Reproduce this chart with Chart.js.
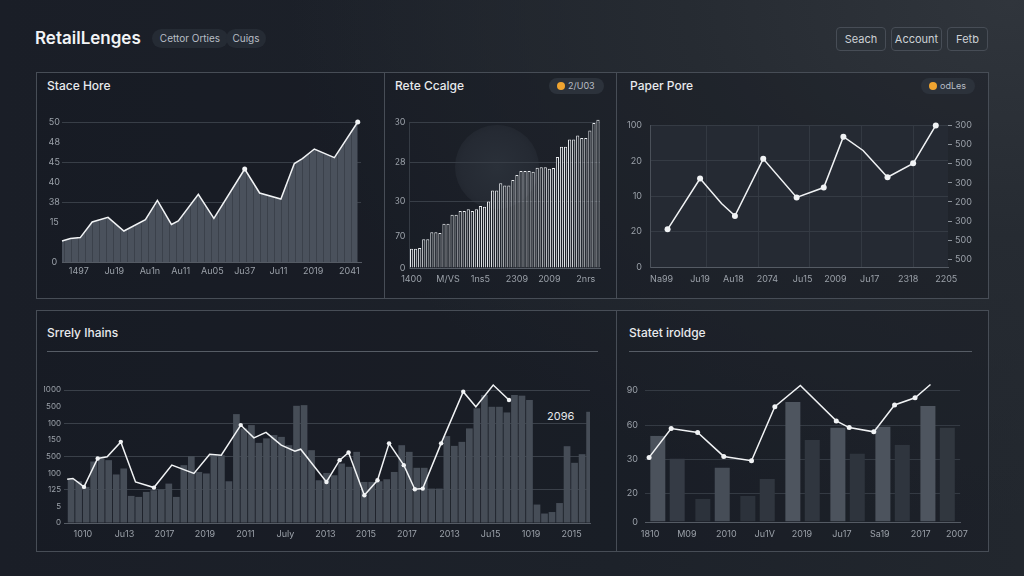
<!DOCTYPE html>
<html>
<head>
<meta charset="utf-8">
<script src="https://cdn.jsdelivr.net/npm/chart.js@4.4.1/dist/chart.umd.min.js"></script>
<style>
body{margin:0;width:1024px;height:576px;overflow:hidden;font-family:Inter,"Noto Sans",sans-serif;
	background:radial-gradient(ellipse 720px 520px at 1010px 0px,#30353c 0%,#262b32 45%,rgba(28,32,40,0) 100%),linear-gradient(90deg,#1a1e27 0%,#1d222a 60%,#22272e 100%);}
.panel{position:absolute;border:1px solid #474d56;background:rgba(20,24,31,.35);box-sizing:border-box}
.title{position:absolute;color:#e8eaed;font-size:12px;font-weight:500;line-height:14px}
.rule{position:absolute;height:1px;background:#565c65}
.pill{position:absolute;height:16px;border-radius:8px;background:#2c323b;color:#b9bec6;font-size:9px;line-height:16px;box-sizing:border-box;padding-left:19px}
.pill i{position:absolute;left:8px;top:4px;width:8px;height:8px;border-radius:4px;background:#f0a430}
.tag{position:absolute;top:29px;height:19px;border-radius:10px;background:#252b34;color:#b8bec6;font-size:10px;line-height:19px;text-align:center}
.btn{position:absolute;top:27px;height:24px;border:1px solid #474d56;border-radius:4px;background:#2b3138;color:#cdd1d6;font-size:11px;line-height:22px;text-align:center;box-sizing:border-box}
canvas{position:absolute}
</style>
</head>
<body>

<div style="position:absolute;left:35px;top:28px;color:#f2f4f6;font-size:17px;font-weight:600">RetailLenges</div>
<div class="tag" style="left:152px;width:76px">Cettor Orties</div>
<div class="tag" style="left:226px;width:40px">Cuigs</div>
<div class="btn" style="left:836px;width:50px">Seach</div>
<div class="btn" style="left:891px;width:51px">Account</div>
<div class="btn" style="left:947px;width:41px">Fetb</div>

<div class="panel" style="left:36px;top:72px;width:349px;height:227px"></div>
<div class="panel" style="left:384px;top:72px;width:233px;height:227px"></div>
<div class="panel" style="left:616px;top:72px;width:373px;height:227px"></div>
<div class="panel" style="left:36px;top:310px;width:581px;height:242px"></div>
<div class="panel" style="left:616px;top:310px;width:373px;height:242px"></div>

<div style="position:absolute;left:455px;top:125px;width:84px;height:84px;border-radius:42px;background:radial-gradient(circle,#2a3039 0%,#252a33 60%,rgba(37,42,51,0) 100%)"></div>

<div class="title" style="left:47px;top:79px">Stace Hore</div>
<div class="title" style="left:395px;top:79px">Rete Ccalge</div>
<div class="pill" style="left:549px;top:78px;width:55px"><i></i>2/U03</div>
<div class="title" style="left:630px;top:79px">Paper Pore</div>
<div class="pill" style="left:921px;top:78px;width:54px"><i></i>odLes</div>
<div class="title" style="left:47px;top:326px">Srrely Ihains</div>
<div class="rule" style="left:47px;top:351px;width:551px"></div>
<div class="title" style="left:629px;top:326px">Statet iroldge</div>
<div class="rule" style="left:629px;top:351px;width:343px"></div>
<div style="position:absolute;left:547px;top:409px;color:#e6e8eb;font-size:11px">2096</div>

<canvas id="c1" width="326" height="172" style="left:44px;top:112px"></canvas>
<canvas id="c2" width="213" height="175" style="left:395px;top:112px"></canvas>
<canvas id="c3" width="350" height="175" style="left:627px;top:112px"></canvas>
<canvas id="c4" width="556" height="162" style="left:44px;top:378px"></canvas>
<canvas id="c5" width="350" height="162" style="left:625px;top:378px"></canvas>

<script>
// ---- data ----
const storeX = [0, 2.8, 6.1, 10.1, 15.4, 20.7, 27.9, 31.9, 36.6, 38.9, 45.6, 50.8, 61.1, 66.1, 73.2, 77.7, 80.4, 84.4, 91.1, 98.9];
const storeY = [1.05, 1.17, 1.22, 2.0, 2.23, 1.55, 2.12, 3.08, 1.88, 2.05, 3.38, 2.18, 4.65, 3.45, 3.15, 4.92, 5.17, 5.65, 5.22, 7.0];
const storeTicks = ['1497', 'Ju19', 'Au1n', 'Au11', 'Au05', 'Ju37', 'Ju11', '2019', '2041'];
const storeTickPos = [5.6, 17.5, 29.4, 39.7, 50.3, 61.1, 72.4, 84, 96.1];
const storeYTicks = ['0', '', '15', '38', '40', '45', '48', '50'];

const rateValues = [5.3, 5.3, 5.5, 7.9, 7.9, 9.8, 9.8, 9.6, 12.1, 12.1, 14.6, 14.6, 15.6, 15.6, 16.1, 15.6,
	16.1, 17.0, 16.8, 18.2, 21.2, 21.2, 23.2, 22.6, 22.6, 24.1, 25.5, 26.6, 26.6, 26.6, 26.4, 27.5,
	27.6, 27.6, 27.2, 27.4, 30.4, 33.2, 33.2, 35.2, 35.2, 36.3, 35.6, 35.6, 37.7, 39.7, 40.6];
const rateTicks = ['1400', 'M/VS', '1ns5', '2309', '2009', '2nrs'];
const rateTickIdx = [0, 9, 17, 26, 34, 43];
const rateYPos = [0, 8.6, 18.2, 28.9, 40];
const rateYTicks = ['0', '70', '30', '28', '30'];

const paperX = [5.9, 16.8, 24, 28.5, 38, 49.2, 58.3, 64.9, 71.5, 79.7, 88.3, 95.9];
const paperY = [26.6, 62.5, 44.8, 36.1, 76.4, 49.1, 56.1, 92, 82.3, 63.4, 73.2, 100];
const paperTicks = ['Na99', 'Ju19', 'Au18', '2074', 'Ju15', '2009', 'Ju17', '2318', '2205'];
const paperTickPos = [3.9, 16.8, 28, 39.4, 51.2, 62.2, 73.7, 86.6, 99.4];
const paperLeftTicks = ['0', '20', '10', '20', '100'];
const paperRightTicks = ['500', '500', '300', '200', '300', '500', '500', '300'];

const supplyBars = [2.63, 2.51, 2.17, 3.7, 3.88, 3.78, 2.92, 3.28, 1.63, 1.57, 1.87, 1.97, 2.03, 2.37, 1.57, 3.48,
	4.02, 3.07, 2.98, 4.08, 4.08, 2.51, 6.55, 5.69, 5.89, 4.82, 5.09, 5.29, 5.18, 4.68, 7.05, 7.09,
	4.38, 2.57, 3.01, 2.87, 3.58, 3.38, 4.28, 2.47, 2.47, 2.51, 2.63, 3.07, 4.68, 4.28, 3.32, 3.32,
	2.07, 2.07, 5.23, 4.64, 4.88, 5.69, 6.9, 7.7, 6.99, 6.99, 6.65, 7.7, 7.66, 7.4, 1.11, 0.57,
	0.66, 1.2, 4.62, 3.62, 4.14, 6.69];
const supplyLineX = [0.6, 1.7, 3.8, 6.4, 8.2, 10.8, 13.6, 17.1, 20.5, 24.7, 27.7, 29.9, 33.6, 36.1, 38.4, 41.3,
	43.9, 45.0, 49.9, 52.4, 54.1, 57.1, 59.6, 61.8, 64.6, 66.7, 68.2, 71.7, 75.9, 78.3, 81.6, 84.6];
const supplyLineY = [2.63, 2.68, 2.17, 3.88, 3.98, 4.88, 2.47, 2.13, 3.48, 2.98, 4.14, 4.08, 5.89, 5.12, 5.45, 4.68,
	4.32, 4.44, 2.47, 3.78, 4.24, 1.67, 2.57, 4.79, 3.48, 2.03, 2.07, 4.79, 7.9, 6.99, 8.3, 7.4];
const supplyTicks = ['1010', 'Ju13', '2017', '2019', '2011', 'July', '2013', '2015', '2017', '2013', 'Ju15', '1019', '2015'];
const supplyTickPos = [3.6, 11.5, 19.1, 26.8, 34.5, 42.1, 49.7, 57.4, 65.2, 73.3, 81.1, 88.8, 96.5];
const supplyYTicks = ['0', '5', '125', '100', '500', '150', '100', '500', '1000'];

const stateBarsA = [78.6, 21.2, 23.6, 109.4, 86.1, 87, 105.8];
const stateBarsB = [58, 49.8, 39.3, 74.7, 62.5, 70.4, 86.1];
const stateLineX = [1.3, 8.3, 16.7, 25, 33.8, 41.2, 49.3, 60.7, 64.8, 72.6, 79.2, 85.7, 90.6];
const stateLineY = [58.9, 85.2, 81.6, 59.8, 55.9, 105.1, 124.5, 92.2, 86.1, 82.2, 106.7, 113.3, 125.4];
const stateTicks = ['1810', 'M09', '2010', 'Ju1V', '2019', 'Ju17', 'Sa19', '2017', '2007'];
const stateTickPos = [1.6, 13.3, 25.8, 38, 49.8, 62.5, 74.5, 87.5, 99];
const stateYPos = [0, 26, 57, 88, 120];
const stateYTicks = ['0', '20', '30', '60', '90'];

// ---- look ----
const LINE = '#f1f3f5';
const GRID = '#383e47';
const AXIS = '#555b64';
const NONE = 'rgba(0,0,0,0)';

Chart.defaults.font.family = 'Inter, "Noto Sans", sans-serif';
Chart.defaults.font.size = 9;
Chart.defaults.color = '#9ba1a9';
Chart.defaults.animation = false;
Chart.defaults.responsive = false;
Chart.defaults.plugins.legend.display = false;
Chart.defaults.plugins.tooltip.enabled = false;

const plotBg = {
	id: 'plotBg',
	beforeDraw(chart, args, opts) {
		if (!opts.color) return;
		const a = chart.chartArea;
		const c = chart.ctx;
		c.save();
		c.fillStyle = opts.color;
		c.fillRect(a.left, a.top, a.right - a.left, a.bottom - a.top);
		c.restore();
	}
};
Chart.register(plotBg);

function at(values) {
	return scale => { scale.ticks = values.map(v => ({ value: v })); };
}

function pts(xs, ys) {
	return xs.map((x, i) => ({ x: x, y: ys[i] }));
}

function stripes() {
	const cv = document.createElement('canvas');
	cv.width = 7; cv.height = 4;
	const c = cv.getContext('2d');
	c.fillStyle = '#4a515c';
	c.fillRect(0, 0, 7, 4);
	c.fillStyle = '#3b414b';
	c.fillRect(6, 0, 1, 4);
	return document.getElementById('c1').getContext('2d').createPattern(cv, 'repeat');
}

function markers(n, idx, r) {
	const out = [];
	for (let i = 0; i < n; i++) out.push(idx.includes(i) ? r : 0);
	return out;
}

// linear bottom axis that only carries the text labels at given spots
function labelAxis(pos, labels, pad, height) {
	return {
		type: 'linear', position: 'bottom', min: 0, max: 100, offset: false,
		afterBuildTicks: at(pos),
		afterFit: s => { s.height = height; },
		ticks: { callback: (v, i) => labels[i], autoSkip: false, maxRotation: 0, padding: pad },
		grid: { display: false, drawTicks: false },
		border: { color: AXIS }
	};
}

// Stace Hore
new Chart(document.getElementById('c1'), {
	type: 'line',
	data: {
		datasets: [{
			data: pts(storeX, storeY),
			borderColor: LINE, borderWidth: 1.5, tension: 0,
			fill: 'origin', backgroundColor: stripes(),
			pointRadius: markers(storeY.length, [12, 19], 2.5),
			pointBackgroundColor: LINE, pointBorderWidth: 0, clip: false
		}]
	},
	options: {
		layout: { padding: { top: 10, right: 9 } },
		scales: {
			x: labelAxis(storeTickPos, storeTicks, 4, 22),
			y: {
				min: 0, max: 7,
				afterBuildTicks: at([0, 1, 2, 3, 4, 5, 6, 7]),
				afterFit: s => { s.width = 18; },
				ticks: { callback: (v, i) => storeYTicks[i], crossAlign: 'center', padding: 2 },
				grid: { color: ctx => [3, 5, 7].includes(ctx.index) ? GRID : NONE, drawTicks: false },
				border: { display: false }
			}
		}
	}
});

// Rete Ccalge
new Chart(document.getElementById('c2'), {
	type: 'bar',
	data: {
		labels: rateValues.map((v, i) => String(i)),
		datasets: [{
			data: rateValues,
			backgroundColor: '#1d222a', borderColor: '#e9ecef', borderWidth: 1,
			barPercentage: 0.78, categoryPercentage: 1, clip: false
		}]
	},
	options: {
		layout: { padding: { top: 10, right: 8 } },
		scales: {
			x: {
				afterBuildTicks: at(rateTickIdx),
				afterFit: s => { s.height = 19; },
				ticks: { callback: (v, i) => rateTicks[i], autoSkip: false, maxRotation: 0, padding: 6 },
				grid: { display: false, drawTicks: false },
				border: { color: AXIS }
			},
			y: {
				min: 0, max: 40,
				afterBuildTicks: at(rateYPos),
				afterFit: s => { s.width = 14; },
				ticks: { callback: (v, i) => rateYTicks[i], padding: 4 },
				grid: { color: ctx => ctx.index >= 2 ? GRID : NONE, drawTicks: false },
				border: { color: '#353b44' }
			}
		}
	}
});

// Paper Pore
new Chart(document.getElementById('c3'), {
	type: 'line',
	data: {
		datasets: [{
			data: pts(paperX, paperY),
			borderColor: LINE, borderWidth: 1.5, tension: 0,
			pointRadius: markers(paperY.length, [0, 1, 3, 4, 5, 6, 7, 9, 10, 11], 3),
			pointBackgroundColor: LINE, pointBorderWidth: 0, clip: false
		}]
	},
	options: {
		layout: { padding: { top: 9 } },
		plugins: { plotBg: { color: '#252a33' } },
		scales: {
			x: labelAxis(paperTickPos, paperTicks, 7, 20),
			xg: {
				type: 'linear', position: 'bottom', min: 0, max: 100, offset: false,
				afterBuildTicks: at([19, 36.3, 53.6, 70.9, 88.3]),
				afterFit: s => { s.height = 0; },
				ticks: { display: false },
				grid: { color: '#333942', drawTicks: false },
				border: { display: false }
			},
			y: {
				min: 0, max: 100,
				afterBuildTicks: at([0, 25, 50, 75, 100]),
				afterFit: s => { s.width = 23; },
				ticks: { callback: (v, i) => paperLeftTicks[i], padding: 8 },
				grid: { color: '#353b44', drawTicks: false },
				border: { color: '#4a5059' }
			},
			y2: {
				position: 'right', min: -0.4, max: 7,
				afterBuildTicks: at([0, 1, 2, 3, 4, 5, 6, 7]),
				afterFit: s => { s.width = 29; },
				ticks: { callback: (v, i) => paperRightTicks[i], padding: 3 },
				grid: { drawOnChartArea: false, tickLength: 4, color: '#8a9098' },
				border: { display: false }
			}
		}
	}
});

// Srrely Ihains
new Chart(document.getElementById('c4'), {
	type: 'bar',
	data: {
		labels: supplyBars.map((v, i) => String(i)),
		datasets: [{
			type: 'line', xAxisID: 'xl', order: 0,
			data: pts(supplyLineX, supplyLineY),
			borderColor: LINE, borderWidth: 1.5, tension: 0,
			pointRadius: markers(supplyLineY.length, [2, 3, 5, 7, 12, 18, 19, 20, 21, 22, 23, 24, 25, 26, 27, 28, 30, 31], 2.2),
			pointBackgroundColor: LINE, pointBorderWidth: 0, clip: false
		}, {
			type: 'bar', xAxisID: 'x', order: 1,
			data: supplyBars,
			backgroundColor: '#464d57',
			barThickness: 6.7, inflateAmount: 0
		}]
	},
	options: {
		layout: { padding: { top: 12, right: 10 } },
		scales: {
			x: { display: false },
			xl: labelAxis(supplyTickPos, supplyTicks, 6, 17),
			y: {
				min: 0, max: 8,
				afterBuildTicks: at([0, 1, 2, 3, 4, 5, 6, 7, 8]),
				afterFit: s => { s.width = 20; },
				ticks: { callback: (v, i) => supplyYTicks[i], padding: 3, font: { size: 8 } },
				grid: { color: ctx => (ctx.index > 0 && ctx.index % 2 === 0) ? '#3a4049' : NONE, drawTicks: false },
				border: { display: false }
			}
		}
	}
});

// Statet iroldge
const pairGap = { left: 2.2, right: 2.2, top: 0, bottom: 0 };
new Chart(document.getElementById('c5'), {
	type: 'bar',
	data: {
		labels: stateBarsA.map((v, i) => String(i)),
		datasets: [{
			type: 'line', xAxisID: 'xl', order: 0,
			data: pts(stateLineX, stateLineY),
			borderColor: LINE, borderWidth: 1.5, tension: 0,
			pointRadius: 2.5, pointBackgroundColor: LINE, pointBorderWidth: 0, clip: false
		}, {
			type: 'bar', xAxisID: 'x', order: 1,
			data: stateBarsA,
			backgroundColor: ['#4b525c', '#2c323b', '#2c323b', '#4e555f', '#4c535d', '#4c535d', '#4e555f'],
			barThickness: 19.4, borderWidth: pairGap, borderColor: NONE, inflateAmount: 0
		}, {
			type: 'bar', xAxisID: 'x', order: 1,
			data: stateBarsB,
			backgroundColor: ['#353b45', '#464d57', '#30363f', '#30363f', '#2e343d', '#2f353e', '#31373f'],
			barThickness: 19.4, borderWidth: pairGap, borderColor: NONE, inflateAmount: 0
		}]
	},
	options: {
		layout: { padding: { top: 11, right: 10 } },
		scales: {
			x: { display: false },
			xl: labelAxis(stateTickPos, stateTicks, 7, 18),
			y: {
				min: 0, max: 120,
				afterBuildTicks: at(stateYPos),
				afterFit: s => { s.width = 20; },
				ticks: { callback: (v, i) => stateYTicks[i], padding: 7 },
				grid: { color: ctx => ctx.index > 0 ? '#343a43' : NONE, drawTicks: false },
				border: { display: false }
			}
		}
	}
});
</script>
</body>
</html>
